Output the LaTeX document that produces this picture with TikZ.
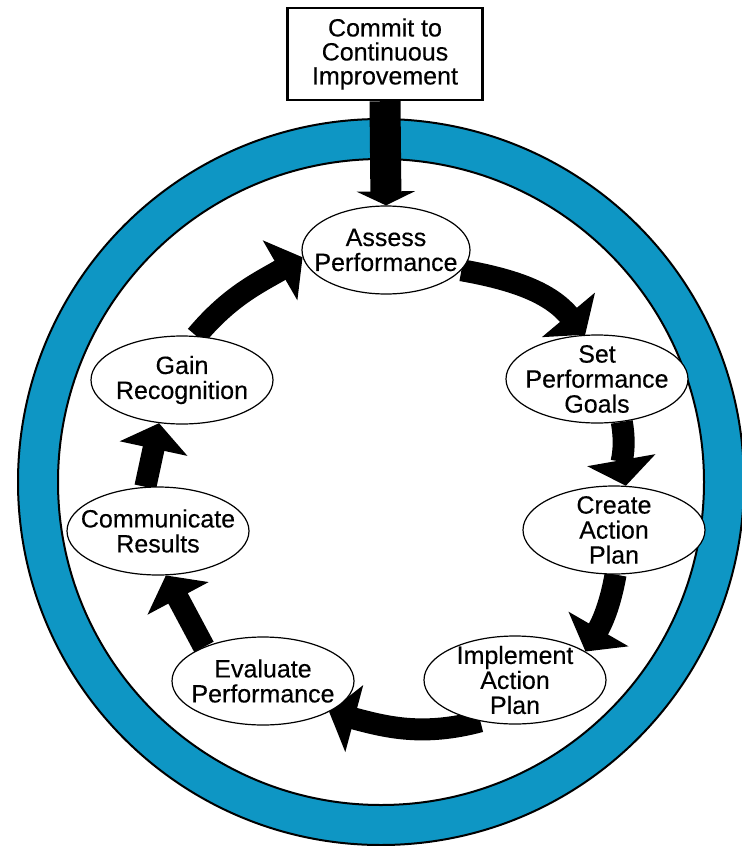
\documentclass[tikz,border=0pt]{standalone}
\usepackage{fontspec}
\setmainfont{Liberation Sans}
\newfontfamily\stagefont[FakeBold=0.3]{Liberation Sans}
\usepackage{tikz}
\usetikzlibrary{shapes.geometric, arrows.meta, positioning, backgrounds}
\definecolor{ringblue}{RGB}{14,150,196}

\begin{document}
\begin{tikzpicture}[x=0.5pt, y=-0.5pt,
    stage/.style={ellipse, draw=black, line width=0.6pt, fill=white, align=center,
        inner xsep=-8pt, inner ysep=-10pt, minimum width=91pt, minimum height=44pt,
        font=\stagefont\fontsize{12.5}{12.5}\selectfont},
    flow/.style={line width=11pt, -{Triangle[width=34pt, length=13pt]}}]
    \useasboundingbox (0,0) rectangle (742,846);

    % Commitment box
    \node[draw, line width=1.2pt, minimum width=97.5pt, minimum height=46pt, align=center,
        font=\stagefont\fontsize{12.5}{12}\selectfont] (commit) at (385,54) {Commit to\\Continuous\\Improvement};

    % Cycle stages
    \node[stage, minimum width=84pt] (assess) at (386,250) {Assess\\Performance};
    \node[stage] (goals) at (597,379) {Set\\Performance\\Goals};
    \node[stage] (create) at (614,530) {Create\\Action\\Plan};
    \node[stage] (implement) at (515,680) {Implement\\Action\\Plan};
    \node[stage] (evaluate) at (263,681) {Evaluate\\Performance};
    \node[stage] (communicate) at (158,531) {Communicate\\Results};
    \node[stage] (gain) at (182,380) {Gain\\Recognition};

    \begin{scope}[on background layer]
        % Blue ring
        \fill[ringblue, even odd rule] (381,482) circle[radius=181.5pt] (381,482) circle[radius=161.5pt];
        \draw[line width=1pt] (381,482) circle[radius=181.5pt];
        \draw[line width=1pt] (381,482) circle[radius=161.5pt];

        % Entry arrow
        \draw[line width=15.5pt, -{Triangle[width=29pt, length=7pt]}] (commit.south) -- (assess.north);

        % Cycle arrows
        \draw[flow] (assess.-15) to[out=-10, in=130] (goals.105);
        \draw[flow] (goals.-60) to[out=-80, in=100] (create.75);
        \draw[flow] (create.-88) to[out=-100, in=60] (implement.22);
        \draw[flow] (implement.-130) to[out=-165, in=-15] (evaluate.-25);
        \draw[flow] (evaluate.150) -- (communicate.-80);
        \draw[flow] (communicate.106) -- (gain.-118);
        \draw[flow] (gain.72) to[out=50, in=-150] (assess.185);
    \end{scope}
\end{tikzpicture}
\end{document}
